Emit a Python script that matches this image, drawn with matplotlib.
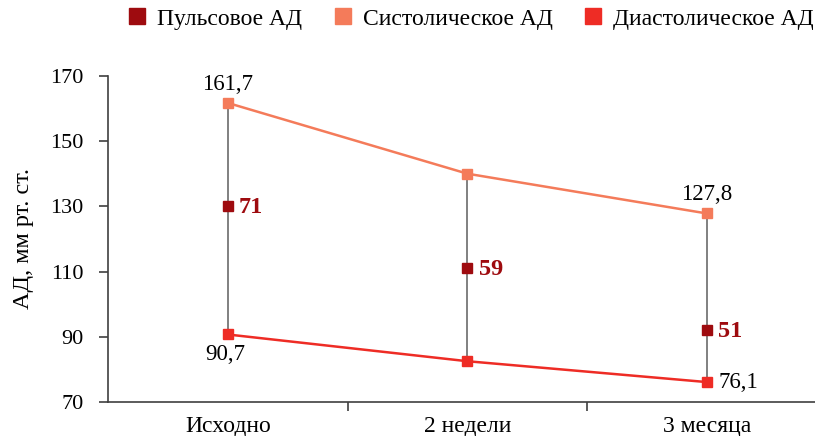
import matplotlib.pyplot as plt
from matplotlib.lines import Line2D

plt.rcParams['font.family'] = ['Liberation Serif', 'DejaVu Serif']

categories = ['Исходно', '2 недели', '3 месяца']
systolic = [161.7, 140.0, 127.8]
diastolic = [90.7, 82.5, 76.1]
pulse = [71, 59, 51]
pulse_marker_y = [130.1, 111.1, 92.1]

c_pulse = '#9E0B0F'
c_sys = '#F47B5A'
c_dia = '#EE2C25'
c_grid = '#808080'

fig = plt.figure(figsize=(8.15, 4.36), dpi=100)
ax = fig.add_axes([0.1325, 0.078, 0.882, 0.748])

x = list(range(len(categories)))

# vertical span between systolic and diastolic
for i in x:
    ax.plot([i, i], [diastolic[i], systolic[i]], color=c_grid, lw=1.4, zorder=1)

ax.plot(x, systolic, color=c_sys, lw=1.8, marker='s', ms=7, zorder=3)
ax.plot(x, diastolic, color=c_dia, lw=1.8, marker='s', ms=7, zorder=3)
ax.plot(x, pulse_marker_y, ls='none', color=c_pulse, marker='s', ms=7, zorder=3)

fs = 16.5


def fmt(v):
    return f'{v:.1f}'.replace('.', ',')


ax.annotate(fmt(systolic[0]), (0, systolic[0]),
            xytext=(0, 6), textcoords='offset points', ha='center', va='bottom', fontsize=fs)
ax.annotate(fmt(systolic[2]), (2, systolic[2]),
            xytext=(0, 6), textcoords='offset points', ha='center', va='bottom', fontsize=fs)
ax.annotate(fmt(diastolic[0]), (0, diastolic[0]),
            xytext=(-2, -7), textcoords='offset points', ha='center', va='top', fontsize=fs)
ax.annotate(fmt(diastolic[2]), (2, diastolic[2]),
            xytext=(8, 0), textcoords='offset points', ha='left', va='center', fontsize=fs)
for i in x:
    ax.annotate(str(pulse[i]), (i, pulse_marker_y[i]), xytext=(8, -1),
                textcoords='offset points', ha='left', va='center',
                fontsize=17.5, fontweight='bold', color=c_pulse)

ax.set_xlim(-0.5, 2.5)
ax.set_ylim(70, 170)
ax.set_yticks(range(70, 171, 20))
ax.set_xticks([0.5, 1.5])
ax.set_xticklabels([])
ax.set_xticks(x, minor=True)
ax.set_xticklabels(categories, minor=True)
ax.tick_params(axis='x', which='minor', length=0, pad=10, labelsize=17)
ax.tick_params(axis='x', which='major', length=6.5, width=1.2, color='#404040')
ax.tick_params(axis='y', length=6.5, width=1.2, color='#404040', labelsize=16, pad=11)

for s in ['top', 'right']:
    ax.spines[s].set_visible(False)
for s in ['left', 'bottom']:
    ax.spines[s].set_color('#404040')
    ax.spines[s].set_linewidth(1.2)

ax.set_ylabel('АД, мм рт. ст.', fontsize=17.5, labelpad=12)

handles = [Line2D([], [], ls='none', marker='s', ms=11, color=c) for c in (c_pulse, c_sys, c_dia)]
fig.legend(handles, ['Пульсовое АД', 'Систолическое АД', 'Диастолическое АД'],
           loc='upper right', bbox_to_anchor=(1.024, 1.03), ncol=3, frameon=False,
           fontsize=17, handlelength=0.8, handletextpad=0.45, columnspacing=1.3)

fig.savefig('out.png', dpi=100)
